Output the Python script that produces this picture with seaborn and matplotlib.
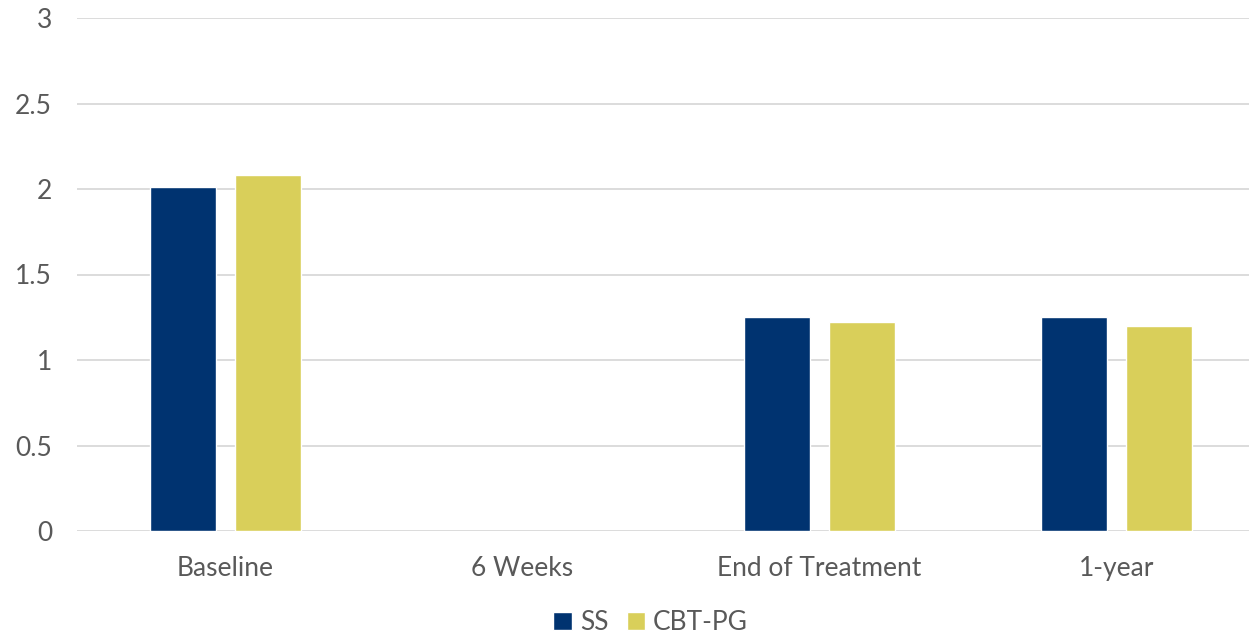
import numpy as np
import pandas as pd
import matplotlib
matplotlib.use("Agg")
import matplotlib.pyplot as plt
import seaborn as sns

# Chart values
timepoints = ["Baseline", "6 Weeks", "End of Treatment", "1-year"]
ss_values = [2.01, np.nan, 1.25, 1.25]
cbt_values = [2.08, np.nan, 1.22, 1.20]
groups = ["SS", "CBT-PG"]
colors = ["#003370", "#D9CF5A"]

df = pd.DataFrame({
    "time": timepoints * 2,
    "group": [groups[0]] * 4 + [groups[1]] * 4,
    "value": ss_values + cbt_values,
})

sns.set_theme(style="white")
plt.rcParams["font.family"] = ["Lato", "DejaVu Sans"]

fig = plt.figure(figsize=(12.49, 6.34), dpi=100)
ax = fig.add_axes([77 / 1249, 103 / 634, 1188 / 1249, 513 / 634])

sns.barplot(data=df, x="time", y="value", hue="group", order=timepoints,
            hue_order=groups, palette=colors, width=0.57, gap=0.22,
            saturation=1, ax=ax, legend=True)

ax.set_ylim(0, 3)
ax.set_xlim(-0.5, 3.5)
ax.set_yticks([0, 0.5, 1, 1.5, 2, 2.5, 3])
ax.set_yticklabels(["0", "0.5", "1", "1.5", "2", "2.5", "3"])
ax.yaxis.grid(True, color="#d9d9d9", linewidth=1.3)
ax.set_axisbelow(True)
for s in ax.spines.values():
    s.set_visible(False)
ax.tick_params(axis="both", length=0, labelsize=19, colors="#595959")
ax.tick_params(axis="x", pad=18)
ax.tick_params(axis="y", pad=18)
ax.set_xlabel("")
ax.set_ylabel("")

handles, labels = ax.get_legend_handles_labels()
ax.legend(handles, labels, loc="center", bbox_to_anchor=(0.483, -0.179),
          ncol=2, frameon=False, fontsize=19, labelcolor="#595959",
          handlelength=0.7, handleheight=0.7, handletextpad=0.3, columnspacing=0.7)

fig.savefig("out.png", dpi=100)
